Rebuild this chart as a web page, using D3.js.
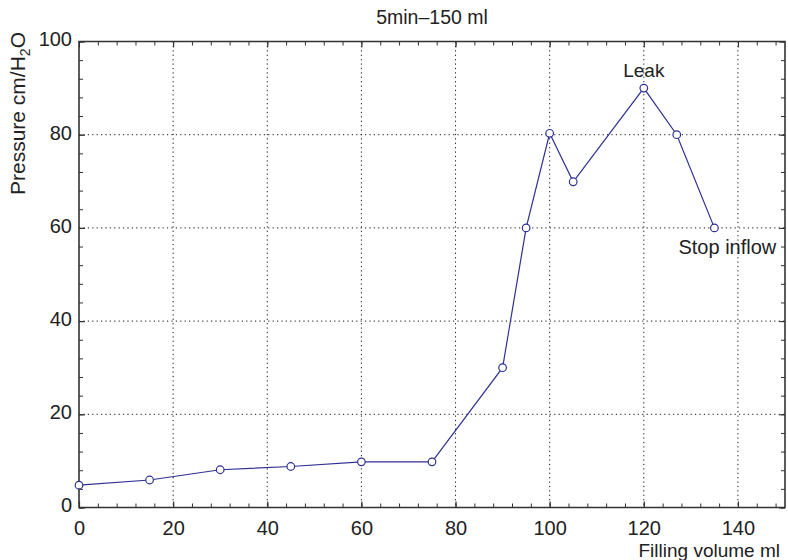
<!DOCTYPE html>
<html>
<head>
<meta charset="utf-8">
<script src="https://cdn.jsdelivr.net/npm/d3@7"></script>
<style>
  html, body { margin: 0; padding: 0; background: #fff; }
  svg { display: block; font-family: "Liberation Sans", Arial, Helvetica, sans-serif; }
</style>
</head>
<body>
<svg id="chart" width="788" height="560"></svg>
<script>
// Filling volume (ml) and measured pressure (cm H2O)
const volume   = [0, 15, 30, 45, 60, 75, 90, 95, 100, 105, 120, 127, 135];
const pressure = [4.8, 5.9, 8.1, 8.8, 9.8, 9.8, 30, 60, 80.3, 69.9, 90, 80, 60];

const xTicks = [0, 20, 40, 60, 80, 100, 120, 140];
const yTicks = [0, 20, 40, 60, 80, 100];

const annotations = [
  { text: "Leak", x: 120, y: 90, anchor: "middle", dx: 0, dy: -11, size: 19 },
  { text: "Stop inflow", x: 135, y: 60, anchor: "middle", dx: 13, dy: 26, size: 20 }
];

const title = "5min\u2013150 ml";
const xLabel = "Filling volume ml";

const svg = d3.select("#chart");
const m = { left: 79, right: 785, top: 41.5, bottom: 507.5 };

const x = d3.scaleLinear().domain([0, 150]).range([m.left, m.right]);
const y = d3.scaleLinear().domain([0, 100]).range([m.bottom, m.top]);

const ink = "#333";
const lineColor = "#2e3192";

// dotted grid at the major ticks
const grid = svg.append("g").attr("stroke", "#111").attr("stroke-width", 1)
  .attr("stroke-dasharray", "1.2,3.2");
grid.selectAll("line.gx").data(xTicks.filter(d => d > 0)).join("line")
  .attr("x1", d => x(d)).attr("x2", d => x(d))
  .attr("y1", m.top).attr("y2", m.bottom);
grid.selectAll("line.gy").data(yTicks.filter(d => d > 0 && d < 100)).join("line")
  .attr("y1", d => y(d)).attr("y2", d => y(d))
  .attr("x1", m.left).attr("x2", m.right);

// inward ticks on all four sides
const minorX = d3.range(0, 151, 4);
const minorY = d3.range(0, 101, 4);
const bottomAxis = d3.axisBottom(x).tickValues(minorX).tickSize(-4).tickFormat("");
const topAxis = d3.axisTop(x).tickValues(minorX).tickSize(-4).tickFormat("");
const leftAxis = d3.axisLeft(y).tickValues(minorY).tickSize(-4).tickFormat("");
const rightAxis = d3.axisRight(y).tickValues(minorY).tickSize(-4).tickFormat("");

function styleAxis(g) {
  g.select(".domain").remove();
  g.selectAll("line").attr("stroke", ink).attr("stroke-width", 1);
}
svg.append("g").attr("transform", `translate(0,${m.bottom})`).call(bottomAxis).call(styleAxis);
svg.append("g").attr("transform", `translate(0,${m.top})`).call(topAxis).call(styleAxis);
svg.append("g").attr("transform", `translate(${m.left},0)`).call(leftAxis).call(styleAxis);
svg.append("g").attr("transform", `translate(${m.right},0)`).call(rightAxis).call(styleAxis);

// longer major ticks with labels
const xMajor = d3.axisBottom(x).tickValues(xTicks).tickSize(-6).tickPadding(13).tickFormat(d3.format("d"));
const yMajor = d3.axisLeft(y).tickValues(yTicks).tickSize(-6).tickPadding(7).tickFormat(d3.format("d"));
function styleMajor(g) {
  g.select(".domain").remove();
  g.selectAll("line").attr("stroke", ink).attr("stroke-width", 1.2);
  g.selectAll("text").attr("fill", "#222").style("font-size", "20px")
    .style("font-family", "'Liberation Sans', Arial, sans-serif");
}
svg.append("g").attr("transform", `translate(0,${m.bottom})`).call(xMajor).call(styleMajor);
svg.append("g").attr("transform", `translate(${m.left},0)`).call(yMajor).call(styleMajor)
  .selectAll("text").attr("dy", "0.22em");
svg.append("g").attr("transform", `translate(0,${m.top})`)
  .call(d3.axisTop(x).tickValues(xTicks).tickSize(-6).tickFormat("")).call(styleAxis);
svg.append("g").attr("transform", `translate(${m.right},0)`)
  .call(d3.axisRight(y).tickValues(yTicks).tickSize(-6).tickFormat("")).call(styleAxis);

// frame
svg.append("path")
  .attr("d", `M${m.left},${m.top}H${m.right}V${m.bottom}H${m.left}Z`)
  .attr("fill", "none").attr("stroke", ink).attr("stroke-width", 1.6);

// data line and markers
const pts = volume.map((v, i) => [v, pressure[i]]);
svg.append("path")
  .datum(pts)
  .attr("fill", "none").attr("stroke", lineColor).attr("stroke-width", 1.2)
  .attr("d", d3.line().x(d => x(d[0])).y(d => y(d[1])));
svg.append("g").selectAll("circle").data(pts).join("circle")
  .attr("cx", d => x(d[0])).attr("cy", d => y(d[1])).attr("r", 3.8)
  .attr("fill", "#fff").attr("stroke", lineColor).attr("stroke-width", 1.2);

// annotations
svg.append("g").selectAll("text").data(annotations).join("text")
  .attr("x", d => x(d.x) + d.dx).attr("y", d => y(d.y) + d.dy)
  .attr("text-anchor", d => d.anchor)
  .attr("fill", "#222").style("font-size", d => d.size + "px")
  .text(d => d.text);

// title
svg.append("text").attr("x", 432).attr("y", 24).attr("text-anchor", "middle")
  .attr("fill", "#222").style("font-size", "19.5px").text(title);

// axis labels
svg.append("text").attr("x", 780).attr("y", 557).attr("text-anchor", "end")
  .attr("fill", "#222").style("font-size", "19px").text(xLabel);

const yl = svg.append("text")
  .attr("transform", "translate(25,32) rotate(-90)")
  .attr("text-anchor", "end")
  .attr("fill", "#222").style("font-size", "21px");
yl.append("tspan").text("Pressure cm/H");
yl.append("tspan").attr("dy", 5).style("font-size", "14px").text("2");
yl.append("tspan").attr("dy", -5).text("O");
</script>
</body>
</html>
